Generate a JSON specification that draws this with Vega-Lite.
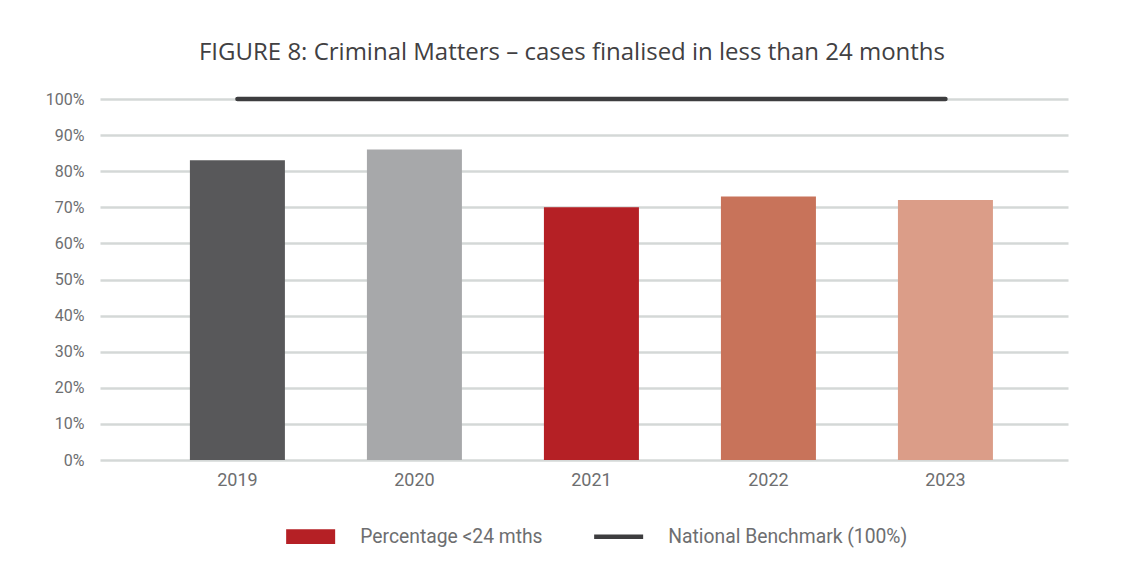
{
  "$schema": "https://vega.github.io/schema/vega-lite/v6.json",
  "width": 968,
  "height": 361,
  "autosize": {"type": "none"},
  "padding": {"left": 100, "top": 99, "right": 68, "bottom": 107},
  "background": "#ffffff",
  "title": {
    "text": "FIGURE 8: Criminal Matters – cases finalised in less than 24 months",
    "font": "Open Sans",
    "fontSize": 24,
    "fontWeight": "normal",
    "color": "#414042",
    "anchor": "middle",
    "dx": -12,
    "offset": 25
  },
  "data": {
    "values": [
      {"year": "2019", "pct": 83},
      {"year": "2020", "pct": 86},
      {"year": "2021", "pct": 70},
      {"year": "2022", "pct": 73},
      {"year": "2023", "pct": 72}
    ]
  },
  "encoding": {
    "x": {
      "field": "year",
      "type": "ordinal",
      "scale": {"paddingInner": 0.4633, "paddingOuter": 0.466, "align": 0.545},
      "axis": {
        "title": null,
        "labelAngle": 0,
        "domain": false,
        "ticks": false,
        "labelFont": "Roboto",
        "labelFontSize": 18,
        "labelColor": "#6d6e70",
        "labelPadding": 11
      }
    },
    "y": {
      "field": "pct",
      "type": "quantitative",
      "scale": {"domain": [0, 100], "nice": false},
      "axis": {
        "title": null,
        "values": [0, 10, 20, 30, 40, 50, 60, 70, 80, 90, 100],
        "labelExpr": "datum.value + '%'",
        "labelOverlap": false,
        "domain": false,
        "ticks": false,
        "grid": true,
        "gridColor": "#d4d8d7",
        "gridWidth": 2.5,
        "labelFont": "Roboto",
        "labelFontSize": 16,
        "labelColor": "#6d6e70",
        "labelPadding": 16
      }
    }
  },
  "layer": [
    {
      "mark": {"type": "bar"},
      "encoding": {
        "fill": {
          "field": "year",
          "type": "nominal",
          "scale": {
            "domain": ["2019", "2020", "2021", "2022", "2023"],
            "range": ["#58585a", "#a7a8aa", "#b52025", "#c8735a", "#db9d88"]
          },
          "legend": null
        }
      }
    },
    {
      "mark": {"type": "line", "strokeWidth": 4.5, "strokeCap": "round"},
      "encoding": {
        "y": {"datum": 100},
        "stroke": {
          "datum": "National Benchmark (100%)",
          "scale": {
            "domain": ["Percentage <24 mths", "National Benchmark (100%)"],
            "range": ["#b52025", "#3d3d3f"]
          },
          "legend": {
            "title": null,
            "orient": "none",
            "legendX": 201,
            "legendY": 428,
            "direction": "horizontal",
            "labelFont": "Roboto",
            "labelFontSize": 19.3,
            "labelColor": "#6d6e70",
            "labelLimit": 0,
            "symbolSize": 2401,
            "columnPadding": 42,
            "labelOffset": 40,
            "encode": {
              "symbols": {
                "update": {
                  "shape": {"signal": "datum.value == 'Percentage <24 mths' ? 'M-1,-0.3H1V0.3H-1Z' : 'M-1,0H1'"},
                  "fill": {"signal": "datum.value == 'Percentage <24 mths' ? '#b52025' : 'transparent'"},
                  "stroke": {"signal": "datum.value == 'Percentage <24 mths' ? '#b52025' : '#3d3d3f'"},
                  "strokeWidth": {"signal": "datum.value == 'Percentage <24 mths' ? 0 : 4.5"},
                  "opacity": {"value": 1}
                }
              }
            }
          }
        }
      }
    }
  ],
  "config": {
    "view": {"stroke": null}
  }
}
